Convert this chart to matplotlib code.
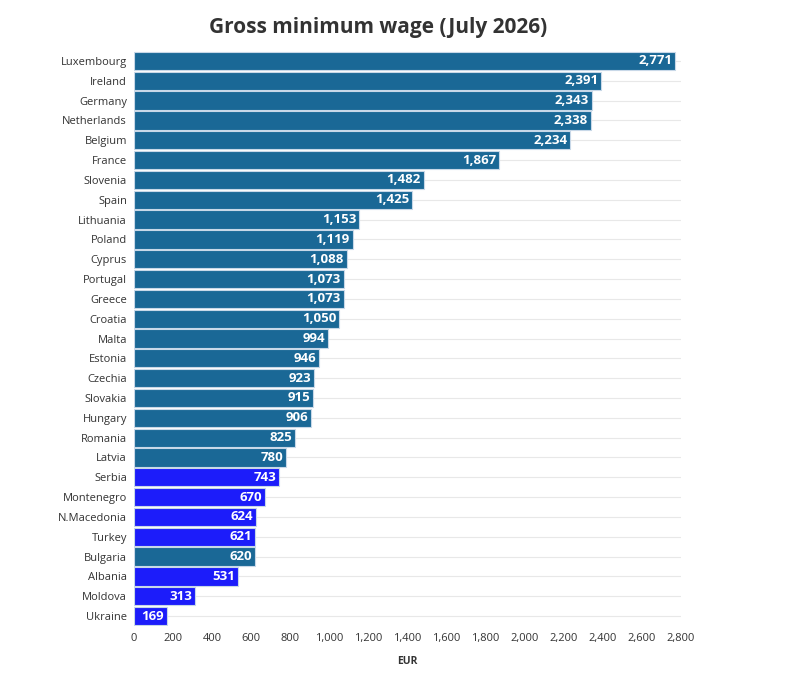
import matplotlib.pyplot as plt
from matplotlib.ticker import FuncFormatter

plt.rcParams['font.family'] = ['Open Sans', 'DejaVu Sans']

countries = ['Luxembourg', 'Ireland', 'Germany', 'Netherlands', 'Belgium', 'France',
             'Slovenia', 'Spain', 'Lithuania', 'Poland', 'Cyprus', 'Portugal', 'Greece',
             'Croatia', 'Malta', 'Estonia', 'Czechia', 'Slovakia', 'Hungary', 'Romania',
             'Latvia', 'Serbia', 'Montenegro', 'N.Macedonia', 'Turkey', 'Bulgaria',
             'Albania', 'Moldova', 'Ukraine']
wages = [2771, 2391, 2343, 2338, 2234, 1867, 1482, 1425, 1153, 1119, 1088, 1073, 1073,
         1050, 994, 946, 923, 915, 906, 825, 780, 743, 670, 624, 621, 620, 531, 313, 169]
non_eu = ['Serbia', 'Montenegro', 'N.Macedonia', 'Turkey', 'Albania', 'Moldova', 'Ukraine']

eu_color = '#1a6896'
other_color = '#1c1cfa'
colors = [other_color if c in non_eu else eu_color for c in countries]

fig = plt.figure(figsize=(7.94, 6.74), dpi=100)
ax = fig.add_axes([0.1688, 0.0712, 0.6889, 0.8531])

y = list(range(len(countries)))
ax.barh(y, wages, height=0.92, color=colors, edgecolor='#c8d8e8', linewidth=0.8, zorder=3)

for yi, w in zip(y, wages):
    ax.text(w - 14, yi, f'{w:,}', ha='right', va='center', color='white',
            fontsize=9.5, fontweight='bold', zorder=4)

ax.set_ylim(len(countries) - 0.5, -0.5)
ax.set_xlim(0, 2800)
ax.set_yticks(y)
ax.set_yticklabels(countries, fontsize=8, color='#333333')
ax.set_xticks(range(0, 2801, 200))
ax.xaxis.set_major_formatter(FuncFormatter(lambda v, p: f'{int(v):,}'))
ax.tick_params(axis='x', labelsize=8, colors='#333333', length=0, pad=5)
ax.tick_params(axis='y', length=0, pad=5)
ax.grid(axis='y', color='#e8e8e8', linewidth=0.8, zorder=0)
for s in ax.spines.values():
    s.set_visible(False)

ax.set_xlabel('EUR', fontsize=7.5, fontweight='bold', color='#333333', labelpad=9)
fig.suptitle('Gross minimum wage (July 2026)', x=0.476, y=0.975, fontsize=15,
             fontweight='bold', color='#333333')

fig.savefig('out.png', dpi=100)
